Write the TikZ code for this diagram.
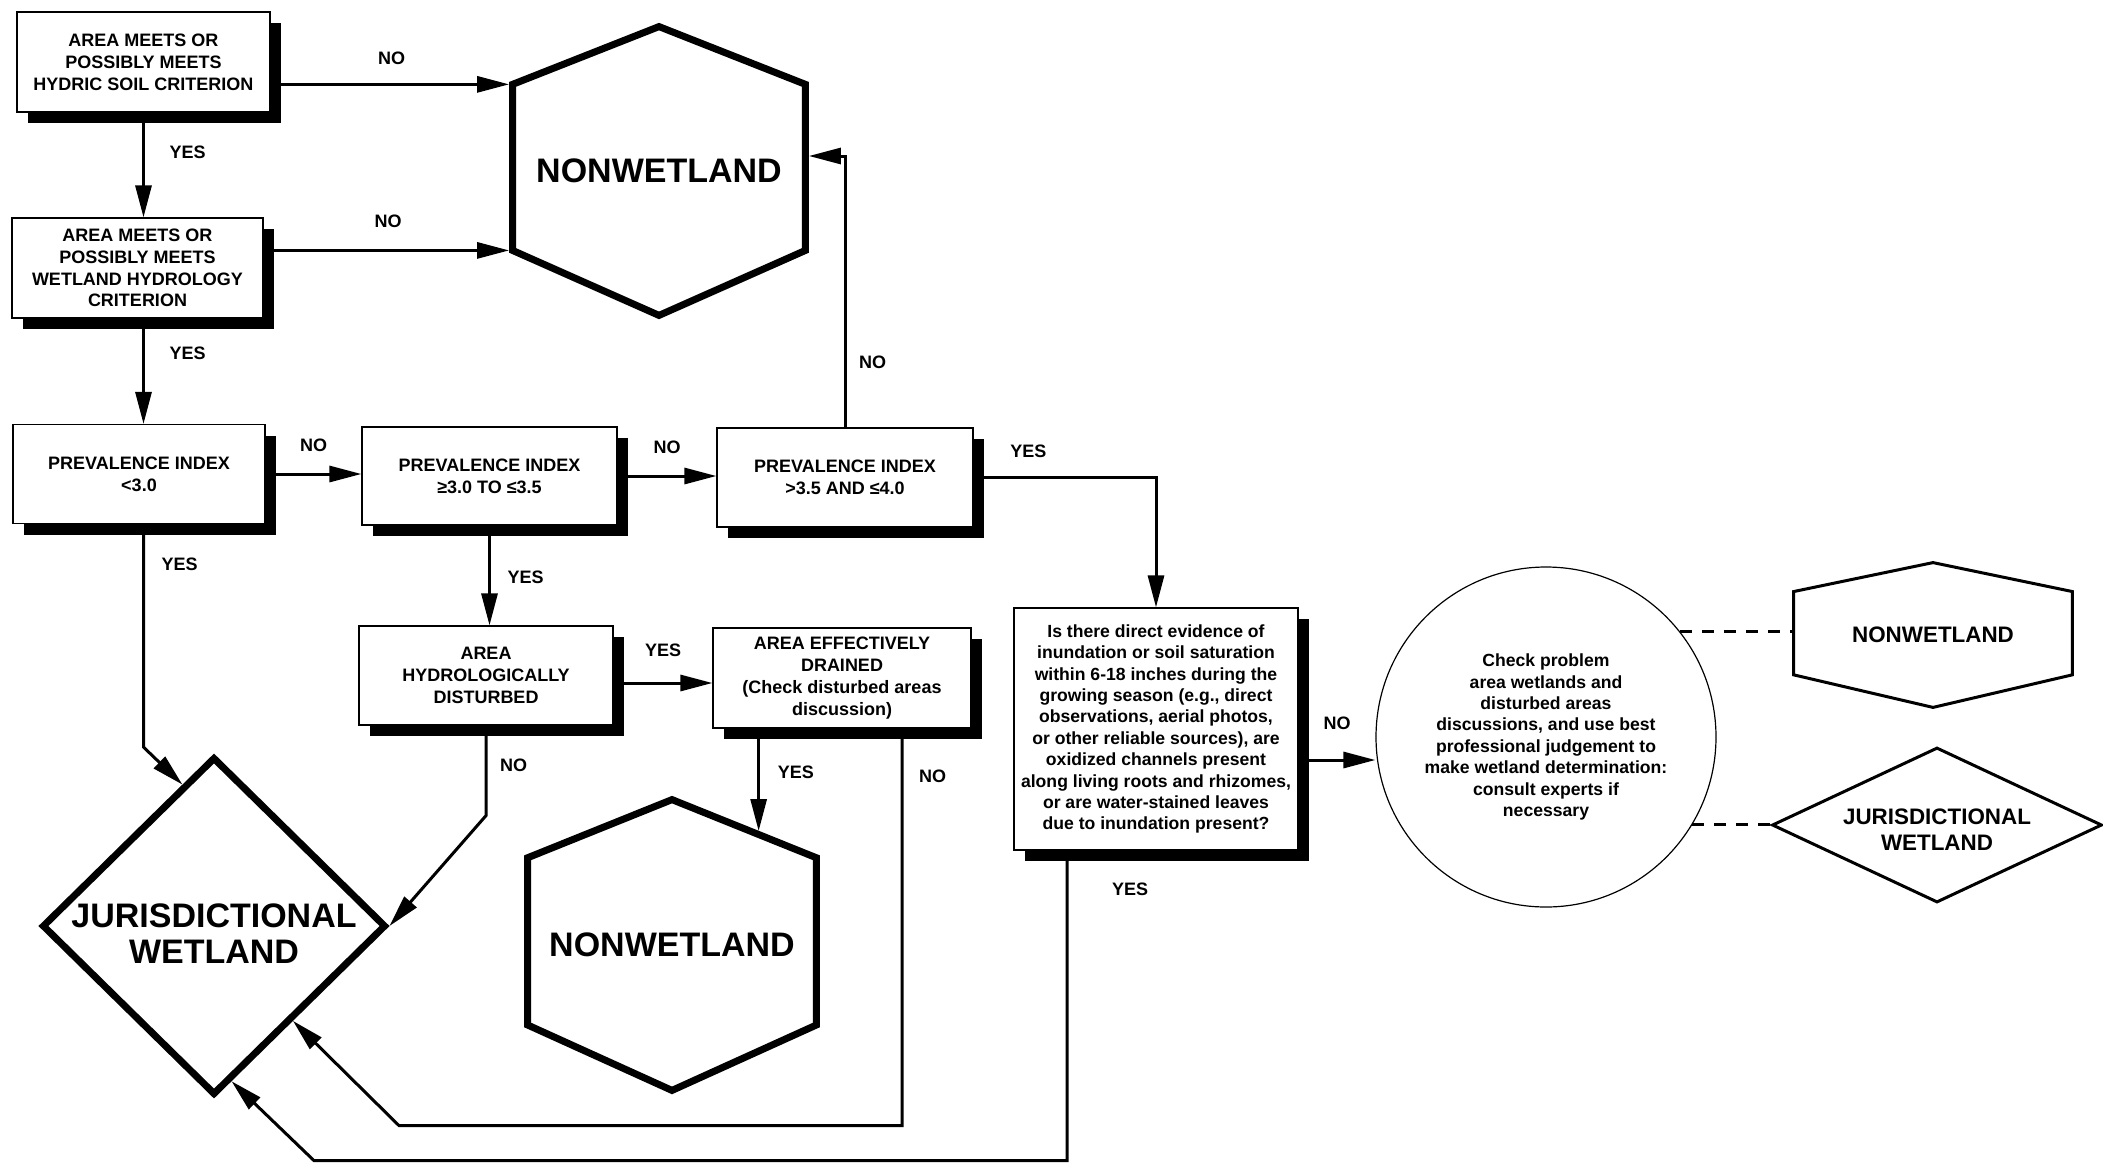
\documentclass[tikz,border=0pt]{standalone}
\usepackage{fontspec}
\setmainfont{Liberation Sans}
\usetikzlibrary{arrows.meta,calc,shadows,shapes.geometric}

\newcommand{\boxfont}{\fontsize{9}{10.9}\selectfont\bfseries}
\newcommand{\notefont}{\fontsize{8.8}{10.7}\selectfont\bfseries}
\newcommand{\bigfont}{\fontsize{17}{18}\selectfont\bfseries}
\newcommand{\smallendfont}{\fontsize{11.2}{13}\selectfont\bfseries}

%% pointed hexagon drawn round a node
\newcommand{\hexaround}[2]{%
  \coordinate (#1-ul) at ($(#1.north west)!0.2!(#1.south west)$);
  \coordinate (#1-ll) at ($(#1.north west)!0.775!(#1.south west)$);
  \coordinate (#1-ur) at ($(#1.north east)!0.2!(#1.south east)$);
  \coordinate (#1-lr) at ($(#1.north east)!0.775!(#1.south east)$);
  \draw[#2] (#1.north) -- (#1-ur) -- (#1-lr) -- (#1.south) -- (#1-ll) -- (#1-ul) -- cycle;}

\tikzset{
  stepbox/.style={draw,fill=white,line width=0.6pt,align=center,inner sep=0pt,font=\boxfont,
    general shadow={shadow xshift=5.5pt,shadow yshift=-5.5pt,fill=black}},
  endtext/.style={inner sep=0pt,align=center,font=\bigfont},
  flow/.style={line width=1.5pt,-{Triangle[length=16pt,width=8pt]}},
  yesno/.style={font=\boxfont},
  link/.style={line width=1.5pt,dash pattern=on 6pt off 5pt},
}

\begin{document}
\begin{tikzpicture}[x=0.5pt,y=-0.5pt]
        \useasboundingbox (0,0) rectangle (2103,1162);
        %% Decision boxes
        \node[stepbox,minimum width=126.5pt,minimum height=50pt] (hydric) at (143.5,62) {AREA MEETS OR\\POSSIBLY MEETS\\HYDRIC SOIL CRITERION};
        \node[stepbox,minimum width=125.5pt,minimum height=50pt] (hydro) at (137.5,268) {AREA MEETS OR\\POSSIBLY MEETS\\WETLAND HYDROLOGY\\CRITERION};
        \node[stepbox,minimum width=126pt,minimum height=49.5pt] (pilow) at (139,474) {PREVALENCE INDEX\\<3.0};
        \node[stepbox,minimum width=127.5pt,minimum height=49pt] (pimid) at (489.5,476) {PREVALENCE INDEX\\≥3.0 TO ≤3.5};
        \node[stepbox,minimum width=128pt,minimum height=49.5pt] (pihigh) at (845,477.5) {PREVALENCE INDEX\\>3.5 AND ≤4.0};
        \node[stepbox,minimum width=127pt,minimum height=49.5pt] (disturbed) at (486,675.5) {AREA\\HYDROLOGICALLY\\DISTURBED};
        \node[stepbox,minimum width=129pt,minimum height=50pt] (drained) at (842,678) {AREA EFFECTIVELY\\DRAINED\\(Check disturbed areas\\discussion)};
        \node[stepbox,font=\notefont,minimum width=142pt,minimum height=121pt] (evidence) at (1156,729) {Is there direct evidence of\\inundation or soil saturation\\within 6-18 inches during the\\growing season (e.g., direct\\observations, aerial photos,\\or other reliable sources), are\\oxidized channels present\\along living roots and rhizomes,\\or are water-stained leaves\\due to inundation present?};
        \node[circle,draw,line width=0.6pt,minimum size=170pt,inner sep=0pt,align=center,font=\notefont] (problem) at (1546,737) {Check problem\\area wetlands and\\disturbed areas\\discussions, and use best\\professional judgement to\\make wetland determination:\\consult experts if\\necessary};
        %% Outcomes
        \node[endtext,minimum width=146pt,minimum height=144pt] (nonwet) at (659,171) {NONWETLAND};
        \hexaround{nonwet}{line width=3.5pt}
        \node[endtext,minimum width=144pt,minimum height=145pt] (nonwetb) at (672,945) {NONWETLAND};
        \hexaround{nonwetb}{line width=3.5pt}
        \node[diamond,draw,line width=3.5pt,minimum width=172pt,minimum height=169pt,inner sep=0pt] (wetland) at (214,926) {};
        \node[endtext] (wetlandtext) at ([yshift=-4pt]wetland.center) {JURISDICTIONAL\\WETLAND};
        \node[endtext,font=\smallendfont,minimum width=139pt,minimum height=72pt] (nonwetc) at (1933,635) {NONWETLAND};
        \hexaround{nonwetc}{line width=1.5pt}
        \node[diamond,draw,line width=1.5pt,minimum width=165pt,minimum height=77.5pt,inner sep=0pt] (wetlandc) at (1937,825) {};
        \node[endtext,font=\smallendfont] (wetlandctext) at ([yshift=-2.5pt]wetlandc.center) {JURISDICTIONAL\\WETLAND};
        %% Main column
        \draw[flow] (hydric.south) -- node[pos=0.38,right=9pt,yesno] {YES} (hydric.south |- hydro.north);
        \draw[flow] (hydric.south |- hydro.south) -- node[pos=0.33,right=9pt,yesno] {YES} (hydric.south |- pilow.north);
        \draw[flow,shorten >=1.75pt] (hydric.east |- nonwet-ul) -- node[above=6pt,yesno] {NO} (nonwet-ul);
        \draw[flow,shorten >=1.75pt] (hydro.east |- nonwet-ll) -- node[above=7.5pt,yesno] {NO} (nonwet-ll);
        %% Prevalence index row
        \draw[flow] (pilow.east) -- node[above=7pt,yesno] {NO} (pilow.east -| pimid.west);
        \draw[flow] (pimid.east) -- node[above=7pt,yesno] {NO} (pimid.east -| pihigh.west);
        \draw[flow,shorten >=1.75pt] (pihigh.north) |- node[pos=0.12,right=3pt,yesno] {NO} ([yshift=7.5pt]nonwet.east);
        \draw[flow] (pihigh.east) -| node[pos=0.15,above=6pt,yesno] {YES} (evidence.north);
        \draw[flow] (hydric.south |- pilow.south) -- node[pos=0.18,right=5pt,yesno] {YES} ++(0,223) -- ($(wetland.north)!0.18!(wetland.west)$);
        %% Disturbed areas
        \draw[flow] (pimid.south) -- node[pos=0.52,right=5pt,yesno] {YES} (pimid.south |- disturbed.north);
        \draw[flow] ([yshift=-3.75pt]disturbed.east) -- node[above=9pt,yesno] {YES} ([yshift=-3.75pt]disturbed.east -| drained.west);
        \draw[flow] (disturbed.south) -- node[pos=0.44,right=3pt,yesno] {NO} ++(0,90) -- (wetland.east);
        \coordinate (drainedyes) at ($(nonwetb.north)!0.6!(nonwetb-ur)$);
        \draw[flow,shorten >=1.75pt] (drainedyes |- drained.south) -- node[pos=0.41,right=5.5pt,yesno] {YES} (drainedyes);
        \draw[flow] ([xshift=30pt]drained.south) -- node[pos=0.12,right=4.5pt,yesno] {NO} ++(0,397) -- ++(-503,0) -- ($(wetland.east)!0.55!(wetland.south)$);
        %% Field evidence
        \draw[flow] ([xshift=-44.5pt]evidence.south) -- node[pos=0.126,right=18.5pt,yesno] {YES} ++(0,310) -- ++(-753,0) -- ($(wetland.east)!0.9!(wetland.south)$);
        \draw[flow] ([yshift=-15.5pt]evidence.east) -- node[above=11pt,yesno] {NO} ([yshift=-15.5pt]evidence.east -| problem.west);
        %% Possible outcomes
        \draw[link] (problem.38) -- (problem.38 -| nonwetc.west);
        \draw[link] (problem.-31) -- (problem.-31 -| wetlandc.west);
    \end{tikzpicture}
\end{document}
